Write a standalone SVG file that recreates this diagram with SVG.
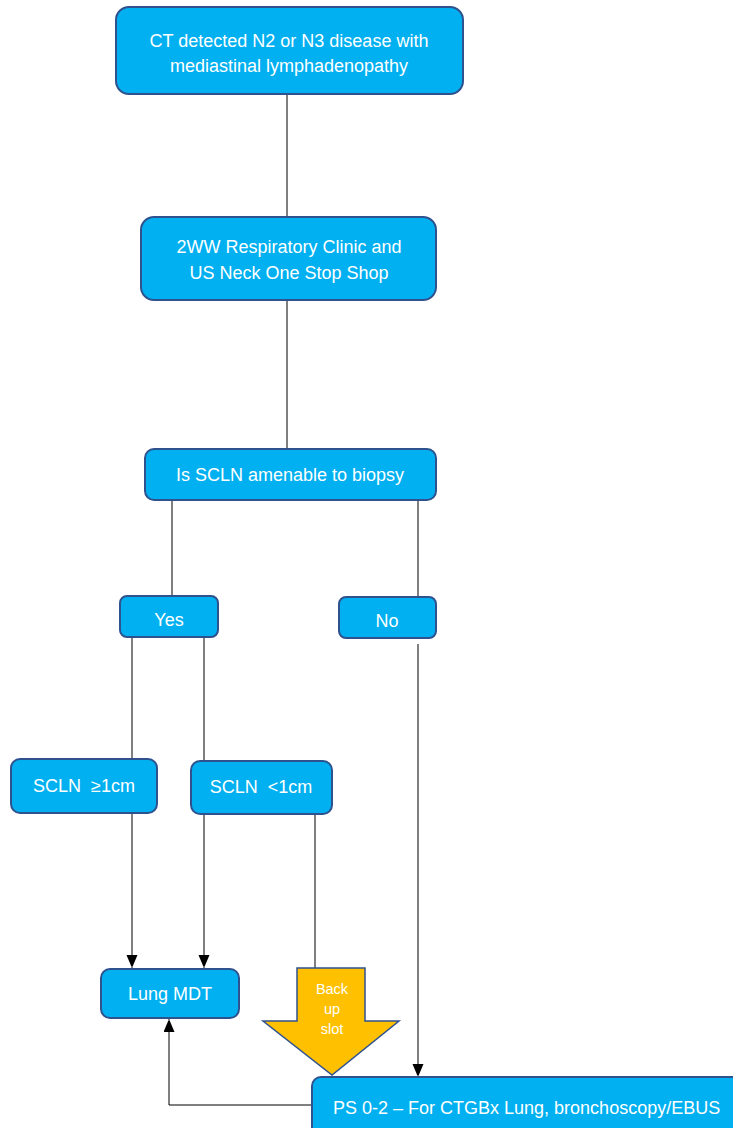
<svg xmlns="http://www.w3.org/2000/svg" width="733" height="1128" viewBox="0 0 733 1128">
<defs>
<style>
.box{fill:#00B0F0;stroke:#2F528F;stroke-width:2}
.t{font-family:"Liberation Sans",Arial,sans-serif;font-size:18px;fill:#fff;text-anchor:middle;white-space:pre}
.c{fill:none;stroke:#000;stroke-width:1}
</style>
<marker id="ah" markerWidth="11" markerHeight="14" refX="13" refY="5.5" orient="auto" markerUnits="userSpaceOnUse">
<path d="M0,0 L13,5.5 L0,11 z" fill="#000"/>
</marker>
</defs>
<rect width="733" height="1128" fill="#fff"/>
<g id="connectors">
<path class="c" d="M287,94 V218"/>
<path class="c" d="M287,300 V450"/>
<path class="c" d="M172,500 V597"/>
<path class="c" d="M418,500 V597"/>
<path class="c" d="M132,637 V760"/>
<path class="c" d="M204,637 V762"/>
<path class="c" d="M132,813 V968" marker-end="url(#ah)"/>
<path class="c" d="M204,814 V968" marker-end="url(#ah)"/>
<path class="c" d="M315,814 V969"/>
<path class="c" d="M418,644 V1077" marker-end="url(#ah)"/>
<path class="c" d="M313,1105 H169 V1019" marker-end="url(#ah)"/>
</g>
<g id="n1"><rect class="box" x="116" y="7" width="347" height="87" rx="13"/>
<text class="t" x="289" y="47">CT detected N2 or N3 disease with</text>
<text class="t" x="289" y="72">mediastinal lymphadenopathy</text></g>
<g id="n2"><rect class="box" x="141" y="217" width="295" height="83" rx="13"/>
<text class="t" x="289" y="253">2WW Respiratory Clinic and</text>
<text class="t" x="289" y="279">US Neck One Stop Shop</text></g>
<g id="n3"><rect class="box" x="145" y="449" width="291" height="51" rx="9"/>
<text class="t" x="290" y="481">Is SCLN amenable to biopsy</text></g>
<g id="yes"><rect class="box" x="120" y="596" width="98" height="41" rx="7"/>
<text class="t" x="169" y="626">Yes</text></g>
<g id="no"><rect class="box" x="339" y="597" width="97" height="41" rx="7"/>
<text class="t" x="387" y="627">No</text></g>
<g id="ge1"><rect class="box" x="11" y="759" width="146" height="54" rx="9"/>
<text class="t" x="84" y="792" xml:space="preserve">SCLN  ≥1cm</text></g>
<g id="lt1"><rect class="box" x="191" y="761" width="141" height="53" rx="9"/>
<text class="t" x="261" y="793" xml:space="preserve">SCLN  &lt;1cm</text></g>
<g id="mdt"><rect class="box" x="101" y="969" width="138" height="49" rx="9"/>
<text class="t" x="170" y="1000">Lung MDT</text></g>
<g id="backup"><path d="M297,968 H365 V1021 H399 L332,1075 L263,1021 H297 Z" fill="#FFC000" stroke="#2F528F" stroke-width="1.5"/>
<text class="t" x="332" y="994" style="font-size:14.5px">Back</text>
<text class="t" x="332" y="1014" style="font-size:14.5px">up</text>
<text class="t" x="332" y="1034" style="font-size:14.5px">slot</text></g>
<g id="ps"><rect class="box" x="312" y="1077" width="440" height="60" rx="9"/>
<text class="t" x="333" y="1114" style="text-anchor:start">PS 0-2 – For CTGBx Lung, bronchoscopy/EBUS</text></g>
</svg>
